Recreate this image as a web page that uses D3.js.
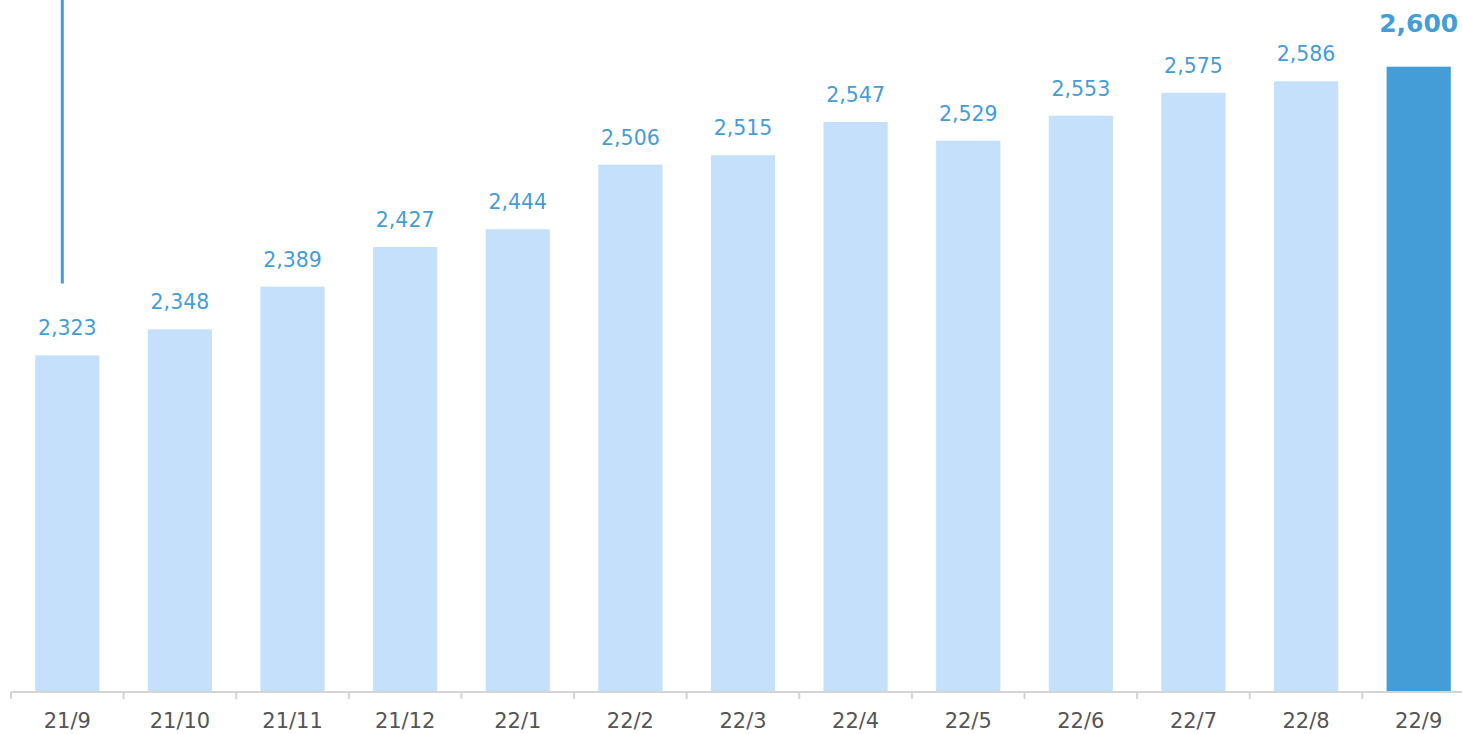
<!DOCTYPE html>
<html>
<head>
<meta charset="utf-8">
<script src="https://cdn.jsdelivr.net/npm/d3@7"></script>
<style>
  body { margin: 0; background: #fff; overflow: hidden; }
  svg text { font-family: "DejaVu Sans", Verdana, sans-serif; }
</style>
</head>
<body>
<div id="chart"></div>
<script>
// data
const months = ["21/9", "21/10", "21/11", "21/12", "22/1", "22/2", "22/3", "22/4", "22/5", "22/6", "22/7", "22/8", "22/9"];
const counts = [2323, 2348, 2389, 2427, 2444, 2506, 2515, 2547, 2529, 2553, 2575, 2586, 2600];
const yDomain = [2000, 2664];

const data = months.map((m, i) => ({month: m, value: counts[i]}));

const width = 1462, height = 734;
const margin = {top: 0, right: -13, bottom: 42, left: 11};
const innerW = width - margin.left - margin.right,
      innerH = height - margin.top - margin.bottom;

const svg = d3.select("#chart")
  .append("svg")
  .attr("width", width)
  .attr("height", height)
  .append("g")
  .attr("transform", `translate(${margin.left}, ${margin.top})`);

const x = d3.scaleBand()
  .domain(months)
  .range([0, innerW])
  .paddingInner(0.43)
  .paddingOuter(0.215);

const y = d3.scaleLinear()
  .domain(yDomain)
  .range([innerH, 0]);

// x axis, ticks sit between the bands
const axis = svg.append("g")
  .attr("transform", `translate(0, ${innerH})`);
axis.append("line")
  .attr("x1", 0).attr("x2", innerW + 20)
  .attr("stroke", "#d4d4d4").attr("stroke-width", 2);
axis.selectAll(".tick")
  .data(months)
  .join("line")
  .attr("x1", d => x(d) - x.step() * x.paddingInner() / 2)
  .attr("x2", d => x(d) - x.step() * x.paddingInner() / 2)
  .attr("y1", 0).attr("y2", 7)
  .attr("stroke", "#d4d4d4").attr("stroke-width", 2);
axis.selectAll(".lbl")
  .data(months)
  .join("text")
  .attr("x", d => x(d) + x.bandwidth() / 2)
  .attr("y", 36)
  .attr("text-anchor", "middle")
  .attr("font-size", "21px")
  .attr("fill", "#555")
  .text(d => d);

// bars
svg.selectAll("rect.bar")
  .data(data)
  .join("rect")
  .attr("class", "bar")
  .attr("x", d => x(d.month))
  .attr("width", x.bandwidth())
  .attr("y", d => y(d.value))
  .attr("height", d => innerH - y(d.value) - 1)
  .attr("fill", (d, i) => i === data.length - 1 ? "#449dd6" : "#c4e0fb");

// value labels
svg.selectAll("text.val")
  .data(data)
  .join("text")
  .attr("class", "val")
  .attr("x", d => x(d.month) + x.bandwidth() / 2)
  .attr("y", (d, i) => y(d.value) - (i === data.length - 1 ? 35 : 20))
  .attr("text-anchor", "middle")
  .attr("font-size", (d, i) => i === data.length - 1 ? "25px" : "20.5px")
  .attr("font-weight", (d, i) => i === data.length - 1 ? "bold" : "normal")
  .attr("fill", "#449dd6")
  .text(d => d3.format(",")(d.value));

// marker line above the first month
svg.append("line")
  .attr("x1", x(months[0]) + x.bandwidth() / 2 - 5)
  .attr("x2", x(months[0]) + x.bandwidth() / 2 - 5)
  .attr("y1", 0)
  .attr("y2", y(2323) - 72)
  .attr("stroke", "#449dd6")
  .attr("stroke-width", 3);
</script>
</body>
</html>
